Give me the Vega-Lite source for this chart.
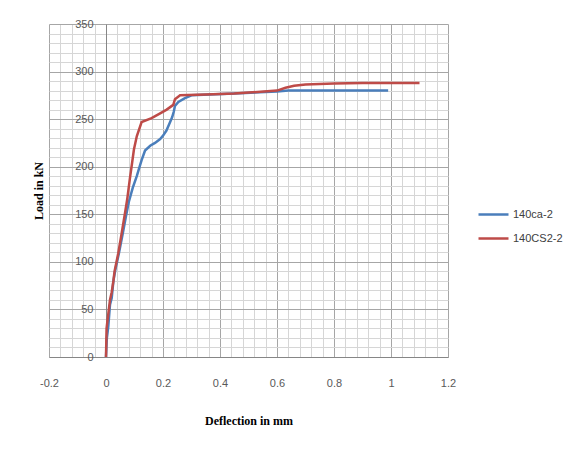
{
  "$schema": "https://vega.github.io/schema/vega-lite/v6.json",
  "width": 399,
  "height": 333,
  "autosize": "none",
  "padding": {"left": 49, "top": 24, "right": 130, "bottom": 92},
  "background": "white",
  "config": {
    "view": {"stroke": null},
    "axis": {"labelFont": "Liberation Sans Narrow, Liberation Sans, sans-serif", "labelFontSize": 11, "labelColor": "#595959", "titleFont": "Liberation Serif", "titleFontWeight": "bold", "titleFontSize": 12, "titleColor": "#000000"}
  },
  "data": {
    "values": [
      {"series": "140ca-2", "d": 0.0, "load": 0},
      {"series": "140ca-2", "d": 0.003, "load": 20},
      {"series": "140ca-2", "d": 0.008, "load": 32},
      {"series": "140ca-2", "d": 0.014, "load": 55},
      {"series": "140ca-2", "d": 0.02, "load": 62},
      {"series": "140ca-2", "d": 0.026, "load": 80},
      {"series": "140ca-2", "d": 0.033, "load": 92},
      {"series": "140ca-2", "d": 0.046, "load": 110},
      {"series": "140ca-2", "d": 0.059, "load": 130},
      {"series": "140ca-2", "d": 0.07, "load": 148},
      {"series": "140ca-2", "d": 0.08, "load": 163},
      {"series": "140ca-2", "d": 0.094, "load": 178},
      {"series": "140ca-2", "d": 0.108, "load": 190},
      {"series": "140ca-2", "d": 0.118, "load": 200},
      {"series": "140ca-2", "d": 0.125, "load": 207},
      {"series": "140ca-2", "d": 0.137, "load": 217},
      {"series": "140ca-2", "d": 0.155, "load": 222},
      {"series": "140ca-2", "d": 0.172, "load": 225},
      {"series": "140ca-2", "d": 0.19, "load": 229},
      {"series": "140ca-2", "d": 0.201, "load": 233},
      {"series": "140ca-2", "d": 0.212, "load": 238},
      {"series": "140ca-2", "d": 0.222, "load": 245},
      {"series": "140ca-2", "d": 0.232, "load": 252},
      {"series": "140ca-2", "d": 0.238, "load": 258},
      {"series": "140ca-2", "d": 0.242, "load": 264},
      {"series": "140ca-2", "d": 0.254, "load": 268},
      {"series": "140ca-2", "d": 0.277, "load": 272},
      {"series": "140ca-2", "d": 0.3, "load": 275},
      {"series": "140ca-2", "d": 0.45, "load": 277},
      {"series": "140ca-2", "d": 0.6, "load": 279},
      {"series": "140ca-2", "d": 0.64, "load": 280},
      {"series": "140ca-2", "d": 0.8, "load": 280},
      {"series": "140ca-2", "d": 0.99, "load": 280},
      {"series": "140CS2-2", "d": 0.0, "load": 0},
      {"series": "140CS2-2", "d": 0.002, "load": 30},
      {"series": "140CS2-2", "d": 0.008, "load": 45},
      {"series": "140CS2-2", "d": 0.014, "load": 60},
      {"series": "140CS2-2", "d": 0.02, "load": 68},
      {"series": "140CS2-2", "d": 0.026, "load": 80},
      {"series": "140CS2-2", "d": 0.03, "load": 90},
      {"series": "140CS2-2", "d": 0.043, "load": 109},
      {"series": "140CS2-2", "d": 0.055, "load": 130},
      {"series": "140CS2-2", "d": 0.066, "load": 150},
      {"series": "140CS2-2", "d": 0.075, "load": 167},
      {"series": "140CS2-2", "d": 0.084, "load": 188},
      {"series": "140CS2-2", "d": 0.092, "load": 205},
      {"series": "140CS2-2", "d": 0.098, "load": 218},
      {"series": "140CS2-2", "d": 0.108, "load": 232},
      {"series": "140CS2-2", "d": 0.125, "load": 247},
      {"series": "140CS2-2", "d": 0.16, "load": 251},
      {"series": "140CS2-2", "d": 0.19, "load": 256},
      {"series": "140CS2-2", "d": 0.213, "load": 260},
      {"series": "140CS2-2", "d": 0.236, "load": 265},
      {"series": "140CS2-2", "d": 0.242, "load": 271},
      {"series": "140CS2-2", "d": 0.26, "load": 275},
      {"series": "140CS2-2", "d": 0.35, "load": 276},
      {"series": "140CS2-2", "d": 0.45, "load": 277},
      {"series": "140CS2-2", "d": 0.6, "load": 280},
      {"series": "140CS2-2", "d": 0.63, "load": 283},
      {"series": "140CS2-2", "d": 0.66, "load": 285},
      {"series": "140CS2-2", "d": 0.7, "load": 286.5},
      {"series": "140CS2-2", "d": 0.8, "load": 287.5},
      {"series": "140CS2-2", "d": 0.9, "load": 288},
      {"series": "140CS2-2", "d": 1.1, "load": 288}
    ]
  },
  "mark": {"type": "line", "strokeWidth": 2.5, "interpolate": "linear"},
  "encoding": {
    "x": {
      "field": "d", "type": "quantitative",
      "scale": {"domain": [-0.2, 1.2], "nice": false, "zero": false},
      "axis": {
        "title": "Deflection in mm",
        "values": [-0.2, -0.16, -0.12, -0.08, -0.04, 0, 0.04, 0.08, 0.12, 0.16, 0.2, 0.24, 0.28, 0.32, 0.36, 0.4, 0.44, 0.48, 0.52, 0.56, 0.6, 0.64, 0.68, 0.72, 0.76, 0.8, 0.84, 0.88, 0.92, 0.96, 1, 1.04, 1.08, 1.12, 1.16, 1.2],
        "labelExpr": "abs(datum.value*5 - round(datum.value*5)) < 0.000001 ? replace(format(datum.value, '.1~f'), '\u2212', '-') : ''",
        "grid": true,
        "gridColor": {"condition": {"test": "abs(datum.value*5 - round(datum.value*5)) < 0.000001", "value": "#a6a6a6"}, "value": "#d6d6d6"},
        "gridWidth": 1,
        "ticks": false,
        "domain": true,
        "domainColor": "#868686",
        "labelPadding": 20,
        "labelFlush": false,
        "labelOverlap": false,
        "titleX": 199.5,
        "titleY": 63,
        "titleBaseline": "middle"
      }
    },
    "y": {
      "field": "load", "type": "quantitative",
      "scale": {"domain": [0, 350], "nice": false},
      "axis": {
        "title": "Load in kN",
        "values": [0, 10, 20, 30, 40, 50, 60, 70, 80, 90, 100, 110, 120, 130, 140, 150, 160, 170, 180, 190, 200, 210, 220, 230, 240, 250, 260, 270, 280, 290, 300, 310, 320, 330, 340, 350],
        "labelExpr": "datum.value % 50 == 0 ? datum.label : ''",
        "grid": true,
        "gridColor": {"condition": {"test": "datum.value % 50 == 0", "value": "#a6a6a6"}, "value": "#d6d6d6"},
        "gridWidth": 1,
        "ticks": false,
        "domain": true,
        "domainColor": "#868686",
        "offset": -57,
        "labelPadding": 13,
        "labelOverlap": false,
        "labelFlush": false,
        "titleAngle": -90,
        "titleX": -68,
        "titleY": 166.5,
        "titleAlign": "center",
        "titleBaseline": "middle"
      }
    },
    "color": {
      "field": "series", "type": "nominal",
      "scale": {"domain": ["140ca-2", "140CS2-2"], "range": ["#4a7ebb", "#be4b48"]},
      "legend": {
        "title": null,
        "orient": "none",
        "legendX": 428,
        "legendY": 174,
        "symbolType": "stroke",
        "symbolSize": 900,
        "symbolStrokeWidth": 2.5,
        "labelFont": "Liberation Sans Narrow, Liberation Sans, sans-serif",
        "labelFontSize": 11,
        "labelColor": "#404040",
        "labelOffset": 3,
        "rowPadding": 2,
        "padding": 0
      }
    },
    "order": {"value": null}
  }
}
